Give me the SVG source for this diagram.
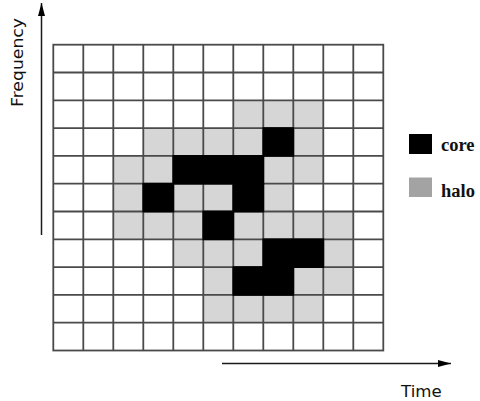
<svg xmlns="http://www.w3.org/2000/svg" width="480" height="401" viewBox="0 0 480 401">
<defs>
<style>
.grid{stroke:#4a4a4a;stroke-width:1.8;fill:none}
.halo{fill:#d6d6d6}
.core{fill:#000}
.axis{stroke:#1a1a1a;stroke-width:1.5;fill:none}
.lbl{font-family:"DejaVu Sans",sans-serif;font-size:15px;fill:#111}
.leg{font-family:"Liberation Serif",serif;font-weight:bold;font-size:18.5px;fill:#111}
</style>
<marker id="ah" markerWidth="13" markerHeight="8" refX="13" refY="4" orient="auto" markerUnits="userSpaceOnUse">
<path d="M0,0.5 L13,4 L0,7.5 Z" fill="#000"/>
</marker>
</defs>
<rect width="480" height="401" fill="#fff"/>
<g id="halo-cells" transform="translate(53.3,44.7)">
<rect class="halo" x="180" y="55.6" width="90" height="27.8"/>
<rect class="halo" x="90" y="83.4" width="120" height="27.8"/>
<rect class="halo" x="240" y="83.4" width="30" height="27.8"/>
<rect class="halo" x="60" y="111.2" width="60" height="27.8"/>
<rect class="halo" x="210" y="111.2" width="60" height="27.8"/>
<rect class="halo" x="60" y="139" width="30" height="27.8"/>
<rect class="halo" x="120" y="139" width="60" height="27.8"/>
<rect class="halo" x="210" y="139" width="30" height="27.8"/>
<rect class="halo" x="60" y="166.8" width="90" height="27.8"/>
<rect class="halo" x="180" y="166.8" width="120" height="27.8"/>
<rect class="halo" x="120" y="194.6" width="90" height="27.8"/>
<rect class="halo" x="270" y="194.6" width="30" height="27.8"/>
<rect class="halo" x="150" y="222.4" width="30" height="27.8"/>
<rect class="halo" x="240" y="222.4" width="60" height="27.8"/>
<rect class="halo" x="150" y="250.2" width="120" height="27.8"/>
</g>
<g id="grid" class="grid" transform="translate(53.3,44.7)">
<rect x="0" y="0" width="330" height="305.8"/>
<path d="M30,0V305.8M60,0V305.8M90,0V305.8M120,0V305.8M150,0V305.8M180,0V305.8M210,0V305.8M240,0V305.8M270,0V305.8M300,0V305.8"/>
<path d="M0,27.8H330M0,55.6H330M0,83.4H330M0,111.2H330M0,139H330M0,166.8H330M0,194.6H330M0,222.4H330M0,250.2H330M0,278H330"/>
</g>
<g id="core-cells" transform="translate(53.3,44.7)">
<rect class="core" x="209.1" y="82.5" width="31.8" height="29.6"/>
<rect class="core" x="119.1" y="110.3" width="91.8" height="29.6"/>
<rect class="core" x="89.1" y="138.1" width="31.8" height="29.6"/>
<rect class="core" x="179.1" y="138.1" width="31.8" height="29.6"/>
<rect class="core" x="149.1" y="165.9" width="31.8" height="29.6"/>
<rect class="core" x="209.1" y="193.7" width="61.8" height="29.6"/>
<rect class="core" x="179.1" y="221.5" width="61.8" height="29.6"/>
</g>
<g id="axes">
<line class="axis" x1="41.5" y1="235" x2="41.5" y2="3" marker-end="url(#ah)"/>
<line class="axis" x1="222" y1="363.5" x2="451" y2="363.5" marker-end="url(#ah)"/>
</g>
<g id="axis-labels">
<text class="lbl" transform="translate(22.5,107) rotate(-90)" textLength="89" lengthAdjust="spacingAndGlyphs">Frequency</text>
<text class="lbl" x="401" y="396.7" textLength="40.7" lengthAdjust="spacingAndGlyphs">Time</text>
</g>
<g id="legend-core">
<rect x="409" y="134" width="23" height="20" fill="#000"/>
<text class="leg" x="441" y="150.5">core</text>
</g>
<g id="legend-halo">
<rect x="409" y="177.5" width="23" height="19.5" fill="#a3a3a3"/>
<text class="leg" x="441" y="196.5">halo</text>
</g>
</svg>
